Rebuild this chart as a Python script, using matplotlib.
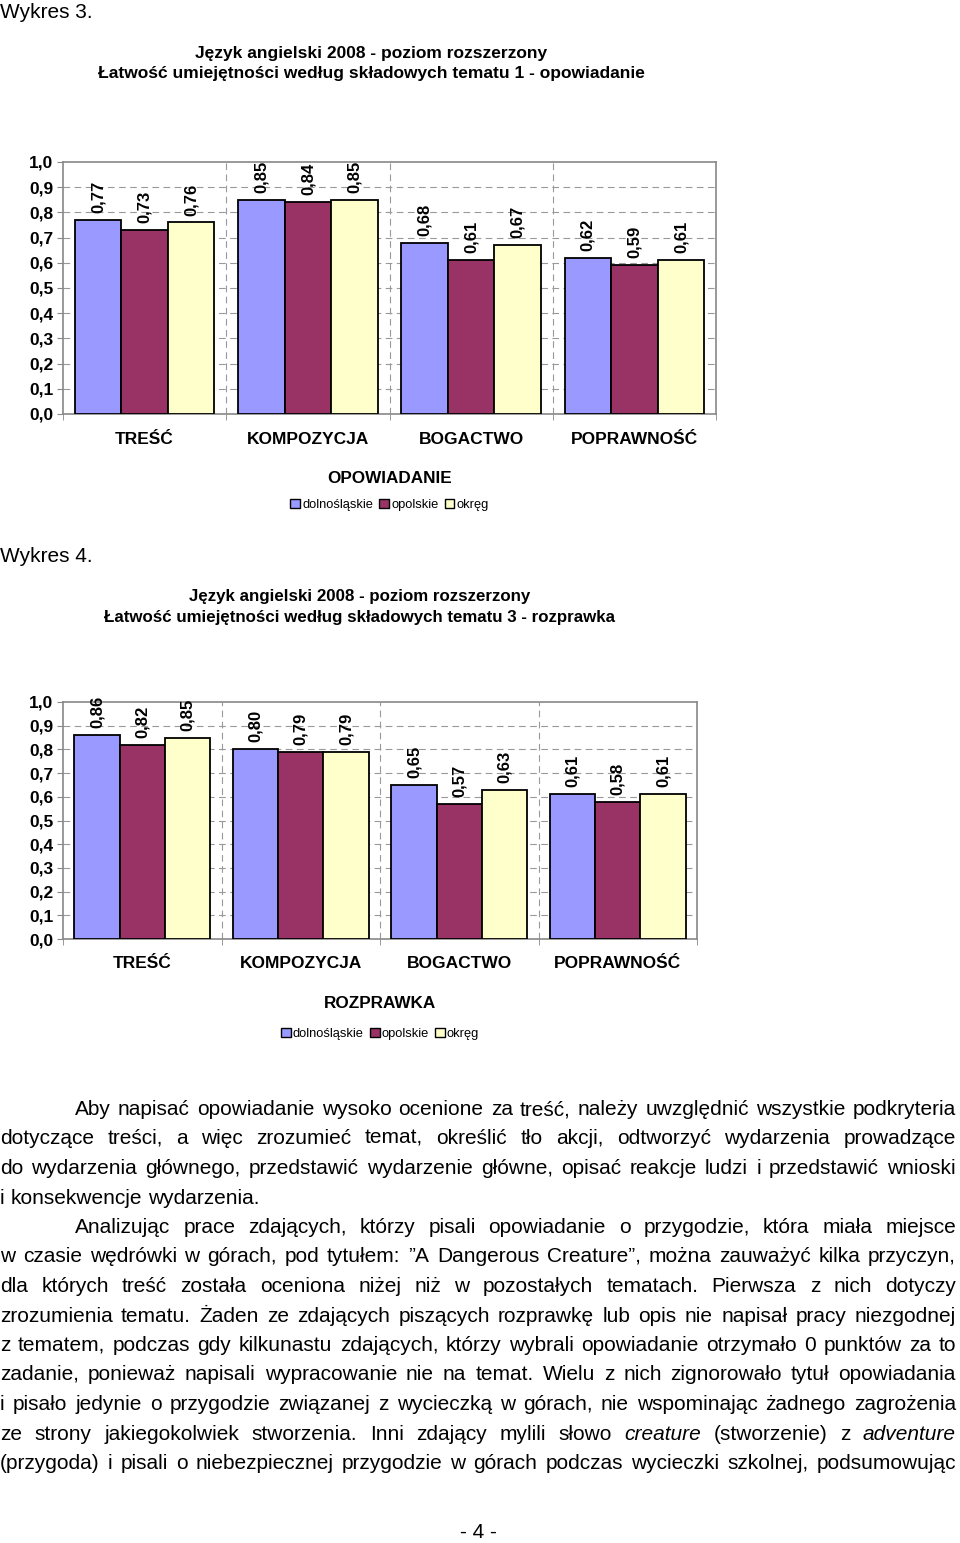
import matplotlib
matplotlib.use("Agg")
import matplotlib.pyplot as plt
import numpy as np
from matplotlib.patches import Patch

plt.rcParams['font.family'] = ['Liberation Sans', 'DejaVu Sans']

W, H = 960, 1543

categories = ["TREŚĆ", "KOMPOZYCJA", "BOGACTWO", "POPRAWNOŚĆ"]
series_names = ["dolnośląskie", "opolskie", "okręg"]
colors = ["#9999FF", "#993366", "#FFFFCC"]

chart1_dolnoslaskie = [0.77, 0.85, 0.68, 0.62]
chart1_opolskie = [0.73, 0.84, 0.61, 0.59]
chart1_okreg = [0.76, 0.85, 0.67, 0.61]

chart2_dolnoslaskie = [0.86, 0.80, 0.65, 0.61]
chart2_opolskie = [0.82, 0.79, 0.57, 0.58]
chart2_okreg = [0.85, 0.79, 0.63, 0.61]

yticks = [0.0, 0.1, 0.2, 0.3, 0.4, 0.5, 0.6, 0.7, 0.8, 0.9, 1.0]
ytick_labels = ["0,0", "0,1", "0,2", "0,3", "0,4", "0,5", "0,6", "0,7", "0,8", "0,9", "1,0"]

chart1_title = "Język angielski 2008 - poziom rozszerzony\nŁatwość umiejętności według składowych tematu 1 - opowiadanie"
chart2_title = "Język angielski 2008 - poziom rozszerzony\nŁatwość umiejętności według składowych tematu 3 - rozprawka"
chart1_xlabel = "OPOWIADANIE"
chart2_xlabel = "ROZPRAWKA"

paragraph_lines = [
    (True, True, "Aby napisać opowiadanie wysoko ocenione za treść, należy uwzględnić wszystkie podkryteria"),
    (False, True, "dotyczące treści, a więc zrozumieć temat, określić tło akcji, odtworzyć wydarzenia prowadzące"),
    (False, True, "do wydarzenia głównego, przedstawić wydarzenie główne, opisać reakcje ludzi i przedstawić wnioski"),
    (False, False, "i konsekwencje wydarzenia."),
    (True, True, "Analizując prace zdających, którzy pisali opowiadanie o przygodzie, która miała miejsce"),
    (False, True, "w czasie wędrówki w górach, pod tytułem: ”A Dangerous Creature”, można zauważyć kilka przyczyn,"),
    (False, True, "dla których treść została oceniona niżej niż w pozostałych tematach. Pierwsza z nich dotyczy"),
    (False, True, "zrozumienia tematu. Żaden ze zdających piszących rozprawkę lub opis nie napisał pracy niezgodnej"),
    (False, True, "z tematem, podczas gdy kilkunastu zdających, którzy wybrali opowiadanie otrzymało 0 punktów za to"),
    (False, True, "zadanie, ponieważ napisali wypracowanie nie na temat. Wielu z nich zignorowało tytuł opowiadania"),
    (False, True, "i pisało jedynie o przygodzie związanej z wycieczką w górach, nie wspominając żadnego zagrożenia"),
    (False, True, "ze strony jakiegokolwiek stworzenia. Inni zdający mylili słowo _creature (stworzenie) z _adventure"),
    (False, True, "(przygoda) i pisali o niebezpiecznej przygodzie w górach podczas wycieczki szkolnej, podsumowując"),
]

fig = plt.figure(figsize=(W / 100, H / 100), dpi=100)
fig.patch.set_facecolor("white")


def fx(x):
    return x / W


def fy(y):
    return 1 - y / H


def draw_chart(left, top, right, bottom, vals, title, title_y, title_fs, title_dx,
               xlabel, xlabel_y, legend_y, cat_pad):
    ax = fig.add_axes([fx(left), fy(bottom), (right - left) / W, (bottom - top) / H])
    x = np.arange(len(categories))
    bw = 0.285
    for i, (v, c) in enumerate(zip(vals, colors)):
        bars = ax.bar(x + (i - 1) * bw, v, width=bw, color=c, edgecolor="black",
                      linewidth=1.3, zorder=3, label=series_names[i])
        for b, val in zip(bars, v):
            ax.annotate(f"{val:.2f}".replace(".", ","),
                        (b.get_x() + b.get_width() / 2, b.get_height()),
                        xytext=(0, 5), textcoords="offset points",
                        rotation=90, ha="center", va="bottom",
                        fontsize=12, fontweight="bold", zorder=4)
    ax.set_xlim(-0.5, len(categories) - 0.5)
    ax.set_ylim(0, 1.0)
    ax.set_yticks(yticks)
    ax.set_yticklabels(ytick_labels, fontsize=12.5, fontweight="bold")
    ax.set_xticks(x)
    ax.set_xticklabels(categories, fontsize=12.5, fontweight="bold")
    ax.tick_params(axis="x", length=0, pad=cat_pad)
    ax.set_xticks(np.arange(len(categories) + 1) - 0.5, minor=True)
    ax.tick_params(axis="x", which="minor", length=4, color="#888888", direction="out")
    ax.tick_params(axis="y", length=4, color="#888888", direction="out", pad=3)
    for yv in yticks[1:-1]:
        ax.axhline(yv, color="#999999", linestyle=(0, (6, 4)), linewidth=0.8, zorder=1)
    for xv in np.arange(1, len(categories)) - 0.5:
        ax.axvline(xv, color="#999999", linestyle=(0, (6, 4)), linewidth=0.8, zorder=1)
    for s in ax.spines.values():
        s.set_color("#888888")
        s.set_linewidth(1.2)
    cx = (left + right) / 2
    fig.text(fx(cx + title_dx), fy(title_y), title, ha="center", va="center",
             fontsize=title_fs, fontweight="bold", linespacing=1.45)
    fig.text(fx(cx), fy(xlabel_y), xlabel, ha="center", va="center",
             fontsize=12.3, fontweight="bold")
    handles = [Patch(facecolor=c, edgecolor="black", linewidth=1) for c in colors]
    fig.legend(handles, series_names, loc="center", bbox_to_anchor=(fx(cx), fy(legend_y)),
               ncol=3, frameon=False, fontsize=9.3, handlelength=0.75, handleheight=0.75,
               handletextpad=0.15, columnspacing=0.5, borderaxespad=0)
    return ax


draw_chart(63, 162, 716, 414,
           [chart1_dolnoslaskie, chart1_opolskie, chart1_okreg],
           chart1_title, 63.5, 12.5, -18.5, chart1_xlabel, 478, 505, 13)
draw_chart(63, 702, 697, 939,
           [chart2_dolnoslaskie, chart2_opolskie, chart2_okreg],
           chart2_title, 607, 12.2, -20, chart2_xlabel, 1003, 1034, 12)

fig.text(fx(0), fy(13), "Wykres 3.", ha="left", va="center", fontsize=15)
fig.text(fx(0), fy(556), "Wykres 4.", ha="left", va="center", fontsize=15)
fig.text(fx(478), fy(1533), "- 4 -", ha="center", va="center", fontsize=15)

# justified paragraph, one text per word
renderer = fig.canvas.get_renderer()
body_fs = 15
left_m, right_m, indent = 0, 956, 75
base_y0, dy = 1115, 29.5
for li, (ind, just, line) in enumerate(paragraph_lines):
    words = line.split(" ")
    items = []
    for w in words:
        style = "normal"
        if w.startswith("_"):
            w = w[1:]
            style = "italic"
        t = fig.text(0, 0, w, fontsize=body_fs, style=style, ha="left", va="baseline")
        wpx = t.get_window_extent(renderer).width
        items.append((t, wpx))
    x0 = indent if ind else left_m
    total = sum(w for _, w in items)
    if just and len(items) > 1:
        gap = (right_m - x0 - total) / (len(items) - 1)
    else:
        sp = fig.text(0, 0, "a a", fontsize=body_fs)
        sp2 = fig.text(0, 0, "aa", fontsize=body_fs)
        gap = sp.get_window_extent(renderer).width - sp2.get_window_extent(renderer).width
        sp.remove(); sp2.remove()
    xc = x0
    y = round(base_y0 + li * dy)
    for t, wpx in items:
        t.set_position((fx(xc), fy(y)))
        xc += wpx + gap

fig.savefig("out.png", dpi=100, facecolor="white")
